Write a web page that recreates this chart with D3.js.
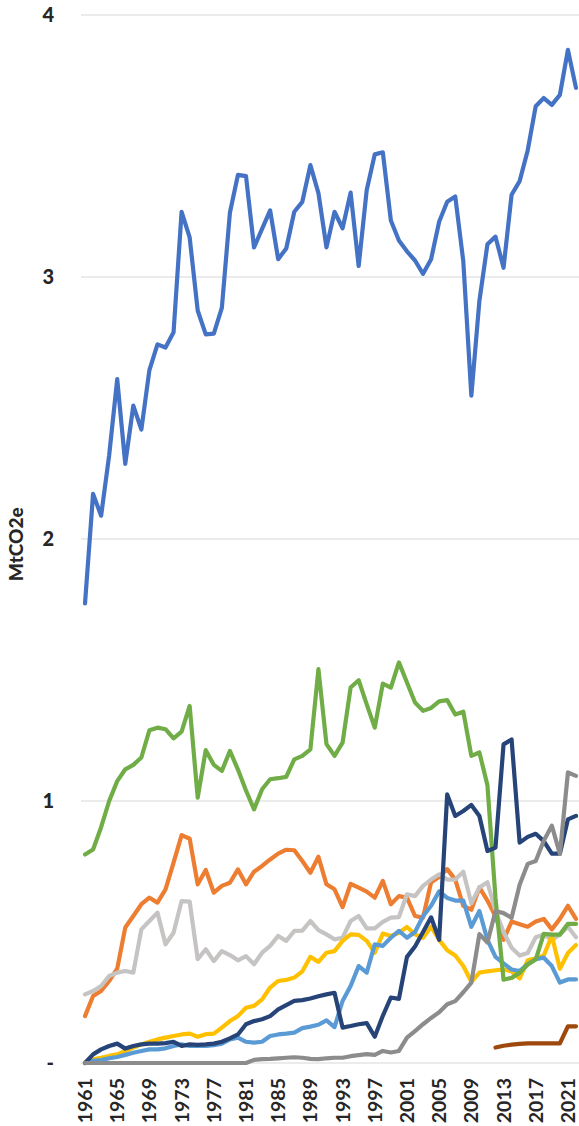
<!DOCTYPE html>
<html>
<head>
<meta charset="utf-8">
<script src="https://cdn.jsdelivr.net/npm/d3@7"></script>
<style>
  html, body { margin: 0; padding: 0; background: #fff; }
  svg { display: block; }
</style>
</head>
<body>
<svg id="canvas"></svg>
<script>
const years = d3.range(1961, 2023);
const yTicks = [0, 1, 2, 3, 4];
const xTickYears = d3.range(1961, 2023, 4);

// values, MtCO2e, 1961..2022
const blue = [1.754, 2.172, 2.089, 2.320, 2.610, 2.287, 2.509, 2.418, 2.645, 2.743,
  2.731, 2.789, 3.249, 3.151, 2.872, 2.781, 2.784, 2.882, 3.245, 3.390,
  3.385, 3.113, 3.184, 3.254, 3.068, 3.109, 3.249, 3.287, 3.427, 3.320,
  3.113, 3.249, 3.186, 3.322, 3.042, 3.332, 3.468, 3.476, 3.216, 3.139,
  3.098, 3.063, 3.012, 3.068, 3.211, 3.287, 3.307, 3.060, 2.547, 2.909,
  3.125, 3.154, 3.035, 3.314, 3.366, 3.483, 3.652, 3.683, 3.657, 3.695,
  3.867, 3.722];
const orange = [0.179, 0.256, 0.275, 0.313, 0.360, 0.517, 0.561, 0.606, 0.631, 0.612,
  0.663, 0.765, 0.870, 0.856, 0.682, 0.737, 0.650, 0.676, 0.688, 0.739,
  0.682, 0.730, 0.752, 0.777, 0.799, 0.814, 0.812, 0.771, 0.726, 0.787,
  0.682, 0.663, 0.595, 0.684, 0.669, 0.654, 0.631, 0.695, 0.606, 0.637,
  0.631, 0.561, 0.555, 0.690, 0.710, 0.740, 0.700, 0.600, 0.585, 0.670,
  0.620, 0.560, 0.470, 0.540, 0.530, 0.520, 0.540, 0.550, 0.510, 0.550,
  0.600, 0.550];
const lightGray = [0.262, 0.275, 0.294, 0.332, 0.345, 0.351, 0.345, 0.510, 0.542, 0.574,
  0.453, 0.497, 0.618, 0.616, 0.396, 0.434, 0.389, 0.427, 0.412, 0.392,
  0.408, 0.377, 0.421, 0.447, 0.485, 0.466, 0.504, 0.505, 0.542, 0.507,
  0.491, 0.472, 0.478, 0.542, 0.561, 0.514, 0.514, 0.539, 0.555, 0.557,
  0.644, 0.637, 0.676, 0.700, 0.720, 0.700, 0.700, 0.730, 0.610, 0.670,
  0.690, 0.580, 0.500, 0.440, 0.410, 0.420, 0.480, 0.490, 0.470, 0.490,
  0.520, 0.480];
const yellow = [0, 0.014, 0.020, 0.027, 0.033, 0.046, 0.059, 0.071, 0.081, 0.090,
  0.097, 0.103, 0.109, 0.112, 0.100, 0.110, 0.112, 0.135, 0.160, 0.179,
  0.211, 0.218, 0.243, 0.288, 0.313, 0.317, 0.326, 0.350, 0.405, 0.386,
  0.421, 0.427, 0.466, 0.491, 0.489, 0.466, 0.421, 0.494, 0.485, 0.497,
  0.519, 0.491, 0.478, 0.520, 0.470, 0.430, 0.410, 0.370, 0.310, 0.345,
  0.350, 0.354, 0.357, 0.350, 0.323, 0.392, 0.400, 0.410, 0.486, 0.360,
  0.420, 0.450];
const lightBlue = [0, 0.008, 0.011, 0.018, 0.023, 0.031, 0.039, 0.046, 0.052, 0.052,
  0.056, 0.065, 0.071, 0.065, 0.065, 0.065, 0.068, 0.074, 0.090, 0.097,
  0.081, 0.078, 0.081, 0.103, 0.109, 0.112, 0.116, 0.133, 0.139, 0.146,
  0.163, 0.137, 0.237, 0.294, 0.370, 0.345, 0.453, 0.447, 0.478, 0.504,
  0.478, 0.500, 0.560, 0.600, 0.655, 0.630, 0.620, 0.620, 0.520, 0.580,
  0.470, 0.405, 0.380, 0.357, 0.351, 0.377, 0.396, 0.402, 0.370, 0.307,
  0.319, 0.319];
const green = [0.796, 0.815, 0.900, 1.000, 1.076, 1.121, 1.138, 1.166, 1.270, 1.280,
  1.274, 1.239, 1.265, 1.363, 1.013, 1.194, 1.138, 1.115, 1.191, 1.120,
  1.040, 0.968, 1.045, 1.083, 1.087, 1.092, 1.159, 1.172, 1.197, 1.503,
  1.217, 1.172, 1.223, 1.433, 1.461, 1.369, 1.280, 1.448, 1.433, 1.529,
  1.452, 1.376, 1.344, 1.355, 1.380, 1.385, 1.330, 1.341, 1.172, 1.185,
  1.060, 0.630, 0.318, 0.325, 0.344, 0.376, 0.395, 0.493, 0.490, 0.490,
  0.531, 0.531];
const navy = [0, 0.033, 0.052, 0.065, 0.074, 0.055, 0.065, 0.071, 0.074, 0.074,
  0.076, 0.081, 0.065, 0.071, 0.069, 0.071, 0.074, 0.081, 0.094, 0.109,
  0.148, 0.160, 0.167, 0.179, 0.205, 0.221, 0.237, 0.240, 0.246, 0.255,
  0.262, 0.268, 0.135, 0.141, 0.148, 0.152, 0.100, 0.180, 0.250, 0.245,
  0.405, 0.445, 0.500, 0.556, 0.470, 1.025, 0.943, 0.962, 0.985, 0.943,
  0.809, 0.822, 1.216, 1.235, 0.841, 0.863, 0.875, 0.847, 0.799, 0.799,
  0.930, 0.943];
const brownYears = d3.range(2012, 2023);
const brown = [0.059, 0.066, 0.070, 0.073, 0.075, 0.075, 0.075, 0.075, 0.075, 0.140, 0.140];
const midGray = [0, 0, 0, 0, 0, 0, 0, 0, 0, 0,
  0, 0, 0, 0, 0, 0, 0, 0, 0, 0,
  0, 0.012, 0.015, 0.016, 0.018, 0.020, 0.022, 0.020, 0.016, 0.015,
  0.018, 0.020, 0.020, 0.026, 0.030, 0.034, 0.031, 0.046, 0.040, 0.046,
  0.097, 0.122, 0.148, 0.172, 0.194, 0.224, 0.236, 0.270, 0.307, 0.492,
  0.460, 0.580, 0.572, 0.554, 0.680, 0.760, 0.771, 0.848, 0.906, 0.798,
  1.109, 1.096];

const series = [
  { values: blue, years: years, color: "#4472c4" },
  { values: orange, years: years, color: "#ed7d31" },
  { values: lightGray, years: years, color: "#c6c3c3" },
  { values: yellow, years: years, color: "#ffc000" },
  { values: lightBlue, years: years, color: "#5b9bd5" },
  { values: green, years: years, color: "#70ad47" },
  { values: navy, years: years, color: "#264478" },
  { values: brown, years: brownYears, color: "#9e480e" },
  { values: midGray, years: years, color: "#8c8c8c" }
];

const width = 579;
const height = 1126;
const margin = { top: 15, right: -1, bottom: 63, left: 81 };
const font = "Lato, 'Liberation Sans', sans-serif";

const svg = d3.select("#canvas").attr("width", width).attr("height", height);

const xScale = d3.scalePoint().domain(years).range([margin.left, width - margin.right]).padding(0.5);
const yScale = d3.scaleLinear().domain([0, 4]).range([height - margin.bottom, margin.top]);

// gridlines
svg.append("g").selectAll("line")
  .data(yTicks)
  .join("line")
  .attr("x1", margin.left)
  .attr("x2", width - margin.right)
  .attr("y1", d => yScale(d))
  .attr("y2", d => yScale(d))
  .attr("stroke", "#e4e4e4")
  .attr("stroke-width", 1.5);

// y axis labels
const yAxis = d3.axisLeft(yScale).tickValues(yTicks).tickSize(0).tickPadding(0)
  .tickFormat(d => d === 0 ? "-" : d);
svg.append("g")
  .attr("transform", `translate(${margin.left - 27}, 0)`)
  .call(yAxis)
  .call(g => g.select(".domain").remove())
  .call(g => g.selectAll("text")
    .attr("fill", "#262626")
    .style("font-family", font)
    .style("font-weight", "900")
    .style("font-size", "20px"));

svg.append("text")
  .attr("transform", `translate(23, ${yScale(1.98)}) rotate(-90)`)
  .attr("text-anchor", "middle")
  .attr("fill", "#262626")
  .style("font-family", font)
  .style("font-weight", "900")
  .style("font-size", "19px")
  .text("MtCO2e");

// x axis labels
svg.append("g").selectAll("text")
  .data(xTickYears)
  .join("text")
  .attr("transform", d => `translate(${xScale(d)}, ${height - margin.bottom + 15}) rotate(-90)`)
  .attr("text-anchor", "end")
  .attr("dy", "0.36em")
  .attr("fill", "#262626")
  .style("font-family", font)
  .style("font-weight", "bold")
  .style("font-size", "19.5px")
  .text(d => d);

// lines
const line = d3.line()
  .x(d => xScale(d[0]))
  .y(d => yScale(d[1]));

svg.append("g").selectAll("path")
  .data(series)
  .join("path")
  .attr("d", s => line(s.years.map((yr, i) => [yr, s.values[i]])))
  .attr("fill", "none")
  .attr("stroke", s => s.color)
  .attr("stroke-width", 4.2)
  .attr("stroke-linejoin", "round")
  .attr("stroke-linecap", "round");
</script>
</body>
</html>
